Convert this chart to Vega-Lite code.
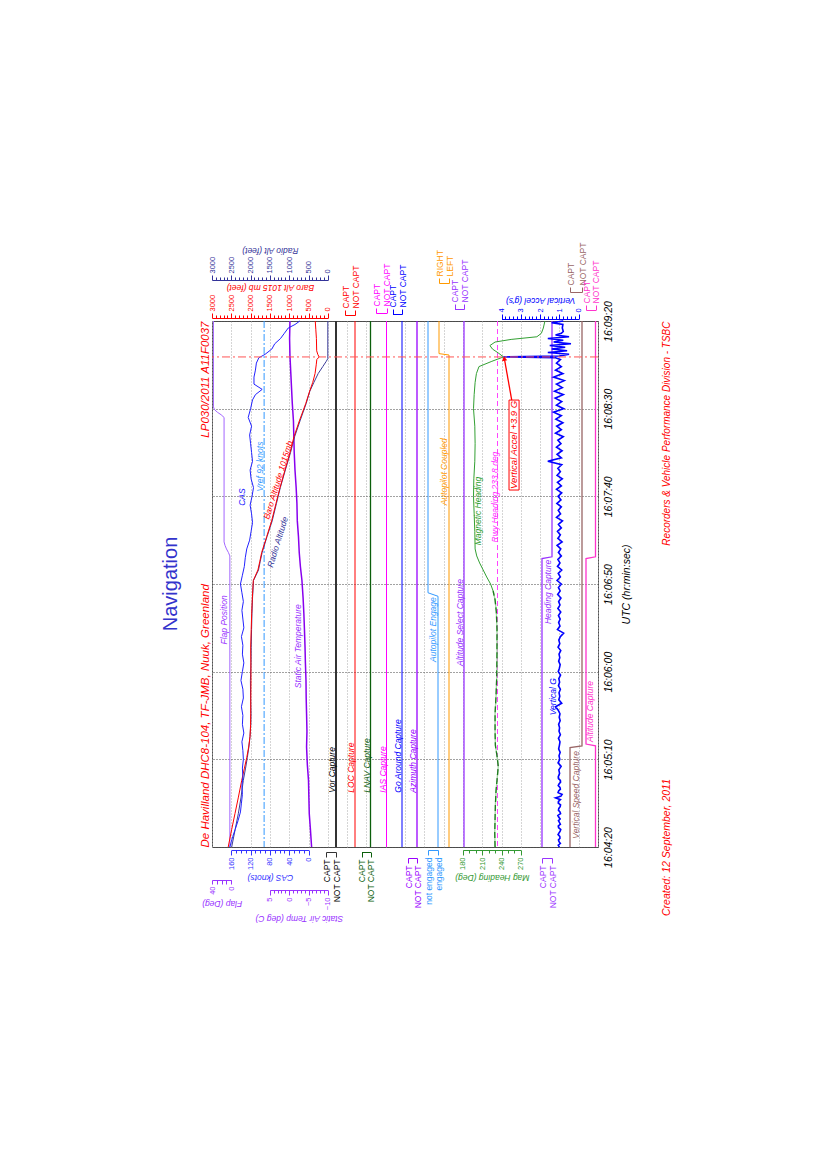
{
"$schema":"https://vega.github.io/schema/vega-lite/v6.json",
"width":386,"height":526,
"autosize":{"type":"none"},
"padding":{"left":212,"top":321,"right":229,"bottom":322},
"background":"white",
"config":{
 "view":{"stroke":"#505050","strokeWidth":1},
 "font":"Liberation Sans",
 "axis":{"labelFont":"Liberation Sans","titleFont":"Liberation Sans","labelFontSize":7.5,"titleFontSize":8.5,"titleFontStyle":"italic","titleFontWeight":"normal","grid":false,"labelFlush":false,"labelOverlap":false,"labelBound":false,"domainWidth":1,"tickWidth":1},
 "text":{"font":"Liberation Sans","fontStyle":"italic","fontSize":8.5},
 "title":{"font":"Liberation Sans"}
},
"title":{"text":"Navigation","orient":"left","anchor":"middle","fontSize":20,"fontWeight":"normal","color":"#3333cc","offset":18},
"datasets":{
 "cas":[{"t":0,"cas":163},{"t":3,"cas":160},{"t":6,"cas":157},{"t":10,"cas":152},{"t":15,"cas":146},{"t":20,"cas":141},{"t":25,"cas":139},{"t":30,"cas":137},{"t":35,"cas":138},{"t":40,"cas":136},{"t":45,"cas":137},{"t":50,"cas":135},{"t":55,"cas":136},{"t":60,"cas":138},{"t":65,"cas":134},{"t":70,"cas":137},{"t":75,"cas":136},{"t":80,"cas":139},{"t":85,"cas":135},{"t":90,"cas":136},{"t":95,"cas":140},{"t":100,"cas":137},{"t":105,"cas":134},{"t":110,"cas":137},{"t":115,"cas":136},{"t":120,"cas":139},{"t":125,"cas":134},{"t":130,"cas":136},{"t":135,"cas":138},{"t":140,"cas":135},{"t":145,"cas":138},{"t":150,"cas":141},{"t":155,"cas":137},{"t":160,"cas":133},{"t":165,"cas":131},{"t":170,"cas":128},{"t":175,"cas":122},{"t":180,"cas":119},{"t":185,"cas":116},{"t":190,"cas":118},{"t":195,"cas":121},{"t":200,"cas":117},{"t":205,"cas":114},{"t":210,"cas":119},{"t":215,"cas":121},{"t":220,"cas":116},{"t":225,"cas":118},{"t":230,"cas":120},{"t":235,"cas":122},{"t":240,"cas":118},{"t":245,"cas":125},{"t":250,"cas":120},{"t":255,"cas":116},{"t":258,"cas":110},{"t":261,"cas":96},{"t":264,"cas":113},{"t":268,"cas":113},{"t":272,"cas":110},{"t":276,"cas":108},{"t":279,"cas":103},{"t":281,"cas":90},{"t":284,"cas":76},{"t":287,"cas":70},{"t":290,"cas":58},{"t":293,"cas":50},{"t":296,"cas":42},{"t":298,"cas":28},{"t":300,"cas":18}],
 "baro":[{"t":0,"baro":2580},{"t":10,"baro":2490},{"t":19,"baro":2405},{"t":28,"baro":2320},{"t":38,"baro":2230},{"t":45,"baro":2160},{"t":51,"baro":2100},{"t":57,"baro":2050},{"t":63,"baro":2015},{"t":70,"baro":2000},{"t":76,"baro":1997},{"t":85,"baro":1995},{"t":95,"baro":1990},{"t":105,"baro":1993},{"t":114,"baro":1997},{"t":124,"baro":1985},{"t":133,"baro":1972},{"t":142,"baro":1955},{"t":152,"baro":1930},{"t":158,"baro":1810},{"t":163,"baro":1760},{"t":168,"baro":1713},{"t":177,"baro":1583},{"t":186,"baro":1455},{"t":196,"baro":1342},{"t":205,"baro":1238},{"t":215,"baro":1109},{"t":225,"baro":979},{"t":234,"baro":876},{"t":243,"baro":738},{"t":253,"baro":570},{"t":260,"baro":470},{"t":265,"baro":390},{"t":270,"baro":330},{"t":275,"baro":300},{"t":278,"baro":285},{"t":279.5,"baro":225},{"t":281,"baro":260},{"t":283,"baro":288},{"t":290,"baro":295},{"t":295,"baro":310},{"t":300,"baro":325}],
 "ra":[{"t":0,"ra":2490},{"t":10,"ra":2400},{"t":19,"ra":2318},{"t":28,"ra":2250},{"t":38,"ra":2189},{"t":45,"ra":2130},{"t":51,"ra":2085},{"t":57,"ra":2045},{"t":63,"ra":2015},{"t":70,"ra":1995},{"t":76,"ra":1990},{"t":85,"ra":2000},{"t":95,"ra":2005},{"t":105,"ra":1990},{"t":114,"ra":1985},{"t":124,"ra":1975},{"t":133,"ra":1965},{"t":142,"ra":1950},{"t":152,"ra":1925},{"t":158,"ra":1795},{"t":163,"ra":1750},{"t":168,"ra":1700},{"t":177,"ra":1575},{"t":186,"ra":1440},{"t":196,"ra":1330},{"t":205,"ra":1230},{"t":215,"ra":1100},{"t":225,"ra":965},{"t":234,"ra":860},{"t":243,"ra":720},{"t":253,"ra":560},{"t":260,"ra":465},{"t":265,"ra":360},{"t":270,"ra":250},{"t":274,"ra":130},{"t":277,"ra":40},{"t":278.5,"ra":0},{"t":300,"ra":0}],
 "sat":[{"t":0,"sat":-5.8},{"t":10,"sat":-5.5},{"t":19,"sat":-5.2},{"t":28,"sat":-5.1},{"t":38,"sat":-5.0},{"t":47,"sat":-4.7},{"t":57,"sat":-4.5},{"t":66,"sat":-4.6},{"t":76,"sat":-4.5},{"t":85,"sat":-4.4},{"t":95,"sat":-4.35},{"t":105,"sat":-4.2},{"t":114,"sat":-4.1},{"t":124,"sat":-3.95},{"t":133,"sat":-3.8},{"t":142,"sat":-3.6},{"t":152,"sat":-3.3},{"t":160,"sat":-2.9},{"t":168,"sat":-2.6},{"t":177,"sat":-2.4},{"t":186,"sat":-2.1},{"t":196,"sat":-2.0},{"t":205,"sat":-1.8},{"t":215,"sat":-1.5},{"t":225,"sat":-1.3},{"t":234,"sat":-1.2},{"t":243,"sat":-1.1},{"t":253,"sat":-0.8},{"t":262,"sat":-0.6},{"t":271,"sat":-0.4},{"t":280,"sat":-0.2},{"t":290,"sat":-0.1},{"t":300,"sat":-0.2}],
 "flap":[{"t":0,"flap":3},{"t":166,"flap":3},{"t":168,"flap":6},{"t":170,"flap":10},{"t":172,"flap":13},{"t":174,"flap":15},{"t":245,"flap":15},{"t":246.5,"flap":21},{"t":248,"flap":29},{"t":249.5,"flap":35},{"t":251,"flap":37},{"t":300,"flap":37}],
 "hdg":[{"t":0,"hdg":230},{"t":8,"hdg":229.5},{"t":16,"hdg":230},{"t":24,"hdg":230.5},{"t":32,"hdg":231.5},{"t":40,"hdg":233.5},{"t":46,"hdg":235},{"t":52,"hdg":233},{"t":58,"hdg":230.5},{"t":66,"hdg":230},{"t":76,"hdg":230},{"t":86,"hdg":231.5},{"t":96,"hdg":232.5},{"t":110,"hdg":233},{"t":124,"hdg":233},{"t":134,"hdg":232},{"t":141,"hdg":230},{"t":146,"hdg":227},{"t":150,"hdg":223},{"t":154,"hdg":217},{"t":158,"hdg":211.5},{"t":162,"hdg":206},{"t":166,"hdg":201.5},{"t":170,"hdg":199},{"t":180,"hdg":198.5},{"t":190,"hdg":197.5},{"t":200,"hdg":196.5},{"t":210,"hdg":197},{"t":220,"hdg":198.5},{"t":230,"hdg":199},{"t":240,"hdg":198.5},{"t":250,"hdg":196.5},{"t":258,"hdg":197.5},{"t":265,"hdg":199},{"t":270,"hdg":201},{"t":274,"hdg":205},{"t":277,"hdg":225},{"t":279.5,"hdg":243},{"t":281.5,"hdg":236},{"t":284,"hdg":226},{"t":286,"hdg":222},{"t":288,"hdg":230},{"t":289.5,"hdg":255},{"t":291,"hdg":295},{"t":293,"hdg":302},{"t":296,"hdg":305},{"t":300,"hdg":307.5}],
 "vg":[{"t":0,"g":1.0},{"t":1,"g":1.06},{"t":2,"g":0.95},{"t":3,"g":1.02},{"t":4,"g":1.05},{"t":5,"g":0.97},{"t":6,"g":0.98},{"t":7,"g":1.07},{"t":8,"g":1.02},{"t":9,"g":0.96},{"t":10,"g":0.93},{"t":11,"g":1.04},{"t":12,"g":1.06},{"t":13,"g":0.95},{"t":14,"g":1.0},{"t":15,"g":1.05},{"t":16,"g":0.96},{"t":17,"g":1.03},{"t":18,"g":1.08},{"t":19,"g":0.94},{"t":20,"g":0.97},{"t":21,"g":1.05},{"t":22,"g":1.03},{"t":23,"g":0.96},{"t":24,"g":0.94},{"t":25,"g":1.06},{"t":26,"g":1.05},{"t":27,"g":0.95},{"t":28,"g":1.2},{"t":29,"g":0.92},{"t":30,"g":0.86},{"t":31,"g":1.07},{"t":32,"g":1.04},{"t":33,"g":0.95},{"t":34,"g":0.97},{"t":35,"g":1.06},{"t":36,"g":1.02},{"t":37,"g":0.94},{"t":38,"g":0.95},{"t":39,"g":1.05},{"t":40,"g":1.06},{"t":42,"g":0.99},{"t":44,"g":1.03},{"t":46,"g":0.91},{"t":48,"g":1.07},{"t":50,"g":0.98},{"t":52,"g":1.02},{"t":54,"g":0.96},{"t":56,"g":1.04},{"t":58,"g":1.0},{"t":60,"g":0.97},{"t":62,"g":1.05},{"t":64,"g":0.95},{"t":66,"g":1.02},{"t":68,"g":0.99},{"t":70,"g":1.04},{"t":72,"g":0.96},{"t":74,"g":1.01},{"t":76,"g":0.97},{"t":78,"g":1.06},{"t":80,"g":1.2},{"t":82,"g":0.88},{"t":84,"g":1.03},{"t":86,"g":0.98},{"t":88,"g":1.02},{"t":90,"g":0.95},{"t":92,"g":1.05},{"t":94,"g":0.99},{"t":96,"g":1.03},{"t":98,"g":0.94},{"t":100,"g":1.06},{"t":102,"g":1.0},{"t":104,"g":0.96},{"t":106,"g":1.04},{"t":108,"g":0.98},{"t":110,"g":1.02},{"t":112,"g":0.93},{"t":114,"g":1.07},{"t":116,"g":0.98},{"t":118,"g":1.03},{"t":120,"g":0.95},{"t":122,"g":0.78},{"t":124,"g":1.1},{"t":126,"g":0.97},{"t":128,"g":1.04},{"t":130,"g":0.96},{"t":132,"g":1.05},{"t":134,"g":0.93},{"t":136,"g":1.08},{"t":138,"g":0.97},{"t":140,"g":1.04},{"t":142,"g":0.92},{"t":144,"g":1.09},{"t":146,"g":0.96},{"t":148,"g":1.05},{"t":150,"g":0.9},{"t":152,"g":1.12},{"t":154,"g":0.95},{"t":156,"g":1.06},{"t":158,"g":0.88},{"t":160,"g":1.1},{"t":162,"g":0.97},{"t":164,"g":1.08},{"t":166,"g":0.9},{"t":168,"g":1.05},{"t":170,"g":0.93},{"t":172,"g":1.12},{"t":174,"g":0.86},{"t":176,"g":1.08},{"t":178,"g":0.95},{"t":180,"g":1.1},{"t":182,"g":0.9},{"t":184,"g":1.05},{"t":186,"g":0.84},{"t":188,"g":1.15},{"t":190,"g":0.94},{"t":192,"g":1.06},{"t":194,"g":0.9},{"t":196,"g":1.13},{"t":198,"g":0.92},{"t":200,"g":1.07},{"t":202,"g":0.88},{"t":204,"g":1.15},{"t":206,"g":0.9},{"t":208,"g":1.1},{"t":210,"g":0.85},{"t":212,"g":1.12},{"t":214,"g":0.95},{"t":216,"g":1.08},{"t":218,"g":0.88},{"t":220,"g":1.6},{"t":222,"g":0.9},{"t":224,"g":1.12},{"t":226,"g":0.86},{"t":228,"g":1.15},{"t":230,"g":0.92},{"t":232,"g":1.08},{"t":234,"g":0.8},{"t":236,"g":1.2},{"t":238,"g":0.9},{"t":240,"g":1.14},{"t":242,"g":0.82},{"t":244,"g":1.18},{"t":246,"g":0.9},{"t":248,"g":1.3},{"t":250,"g":0.78},{"t":252,"g":1.15},{"t":254,"g":0.88},{"t":256,"g":1.22},{"t":258,"g":0.8},{"t":260,"g":1.25},{"t":262,"g":0.85},{"t":264,"g":1.15},{"t":266,"g":0.75},{"t":268,"g":1.3},{"t":270,"g":0.82},{"t":272,"g":1.2},{"t":274,"g":0.9},{"t":276,"g":1.15},{"t":278,"g":0.95},{"t":279,"g":1.2},{"t":279.5,"g":3.9},{"t":280,"g":1.0},{"t":281,"g":0.5},{"t":282,"g":1.6},{"t":283,"g":0.6},{"t":284,"g":1.4},{"t":285,"g":0.7},{"t":286,"g":1.5},{"t":287,"g":0.4},{"t":288,"g":1.3},{"t":289,"g":0.8},{"t":290,"g":1.6},{"t":291,"g":0.5},{"t":292,"g":1.2},{"t":293,"g":0.9},{"t":294,"g":0.8},{"t":296,"g":0.85},{"t":298,"g":0.82},{"t":299,"g":1.4},{"t":300,"g":0.8}]
},
"resolve":{"scale":{"x":"independent"},"axis":{"x":"independent","y":"independent"}},
"layer":[
 {"data":{"values":[{"cas":92}]},"mark":{"type":"rule","color":"#3399ff","strokeDash":[7,2,2,2],"strokeWidth":1},
  "encoding":{"x":{"field":"cas","type":"quantitative","scale":{"domain":[-600,200],"range":[386,0],"nice":false,"zero":false},"axis":{"orient":"bottom","values":[-600,-560,-520,-480,-440,-400,-360,-320,-280,-240,-200,-160,-120,-80,-40,0,40,80,120,160,200],"grid":true,"gridColor":"#aaaaaa","gridDash":[1,2],"gridWidth":1,"labels":false,"ticks":false,"domain":false,"title":null}}}},
 {"data":{"values":[{"cas":100.5,"t":217,"label":"Vref 92 knots"}]},"mark":{"type":"text","angle":270,"color":"#3399ff"},
  "encoding":{"x":{"field":"cas","type":"quantitative","scale":{"domain":[-600,200],"range":[386,0],"nice":false,"zero":false},"axis":null},"y":{"field":"t","type":"quantitative","scale":{"domain":[0,300],"nice":false,"zero":false},"axis":null},"text":{"field":"label"}}},

 {"data":{"name":"flap"},"mark":{"type":"line","color":"#a366ff","strokeWidth":1},
  "encoding":{"x":{"field":"flap","type":"quantitative","scale":{"domain":[0,40],"range":[19.3,0],"nice":false,"zero":false},"axis":{"orient":"bottom","offset":33,"values":[0,10,20,30,40],"labelExpr":"datum.value % 40 === 0 ? format(datum.value,'d') : ''","labelAngle":-90,"labelAlign":"right","labelBaseline":"middle","tickSize":4,"labelPadding":2,"domainColor":"#9933ff","tickColor":"#9933ff","labelColor":"#9933ff","title":"Flap (Deg)","titleColor":"#9933ff","titleAngle":180,"titleBaseline":"bottom","titlePadding":4}},
   "y":{"field":"t","type":"quantitative","scale":{"domain":[0,300],"nice":false,"zero":false},"axis":{"orient":"left","labels":false,"ticks":false,"domain":false,"grid":false,"title":"De Havilland DHC8-104, TF-JMB, Nuuk, Greenland","titleAnchor":"start","titleAlign":"left","titleAngle":-90,"titleBaseline":"bottom","titlePadding":2,"titleColor":"#ff0000","titleFontSize":11.5,"titleFontStyle":"italic"}},
   "order":{"field":"t","type":"quantitative"}}},
 {"data":{"values":[{"flap":15,"t":129.5,"label":"Flap Position"}]},"mark":{"type":"text","angle":270,"color":"#9933ff"},
  "encoding":{"x":{"field":"flap","type":"quantitative","scale":{"domain":[0,40],"range":[19.3,0],"nice":false,"zero":false},"axis":null},"y":{"field":"t","type":"quantitative","axis":null},"text":{"field":"label"}}},

 {"data":{"name":"sat"},"mark":{"type":"line","color":"#8800ee","strokeWidth":1.5},
  "encoding":{"x":{"field":"sat","type":"quantitative","scale":{"domain":[-10,5],"range":[115.8,57.9],"nice":false,"zero":false},"axis":{"orient":"bottom","offset":43,"values":[-10,-9,-8,-7,-6,-5,-4,-3,-2,-1,0,1,2,3,4,5],"labelExpr":"datum.value % 5 === 0 ? format(datum.value,'d') : ''","tickSize":{"condition":{"test":"datum.value % 5 === 0","value":5},"value":3},"labelAngle":-90,"labelAlign":"right","labelBaseline":"middle","labelPadding":2,"domainColor":"#9933ff","tickColor":"#9933ff","labelColor":"#9933ff","title":"Static Air Temp (deg C)","titleColor":"#9933ff","titleAngle":180,"titleBaseline":"bottom","titlePadding":4}},
   "y":{"field":"t","type":"quantitative","axis":{"orient":"left","labels":false,"ticks":false,"domain":false,"grid":false,"title":"LP030/2011  A11F0037","titleAnchor":"end","titleAlign":"right","titleAngle":-90,"titleBaseline":"bottom","titlePadding":2,"titleColor":"#ff0000","titleFontSize":11.5,"titleFontStyle":"italic"}},
   "order":{"field":"t","type":"quantitative"}}},
 {"data":{"values":[{"sat":-2.4,"t":114.5,"label":"Static Air Temperature"}]},"mark":{"type":"text","angle":270,"color":"#9933ff"},
  "encoding":{"x":{"field":"sat","type":"quantitative","scale":{"domain":[-10,5],"range":[115.8,57.9],"nice":false,"zero":false},"axis":null},"y":{"field":"t","type":"quantitative","axis":null},"text":{"field":"label"}}},

 {"data":{"name":"ra"},"mark":{"type":"line","color":"#3d3d99","strokeWidth":1},
  "encoding":{"x":{"field":"ra","type":"quantitative","scale":{"domain":[0,3000],"range":[115.8,0],"nice":false,"zero":false},"axis":{"orient":"top","offset":41,"values":[0,100,200,300,400,500,600,700,800,900,1000,1100,1200,1300,1400,1500,1600,1700,1800,1900,2000,2100,2200,2300,2400,2500,2600,2700,2800,2900,3000],"labelExpr":"datum.value % 500 === 0 ? format(datum.value,'d') : ''","tickSize":{"condition":{"test":"datum.value % 500 === 0","value":5},"value":3},"labelAngle":-90,"labelAlign":"left","labelBaseline":"middle","labelPadding":2,"domainColor":"#333399","tickColor":"#333399","labelColor":"#333399","title":"Radio Alt (feet)","titleColor":"#333399","titleAngle":180,"titleBaseline":"top","titlePadding":2}},
   "y":{"field":"t","type":"quantitative","axis":null},
   "order":{"field":"t","type":"quantitative"}}},
 {"data":{"values":[{"ra":1303,"t":174,"label":"Radio Altitude"}]},"mark":{"type":"text","angle":287,"color":"#333399"},
  "encoding":{"x":{"field":"ra","type":"quantitative","scale":{"domain":[0,3000],"range":[115.8,0],"nice":false,"zero":false},"axis":null},"y":{"field":"t","type":"quantitative","axis":null},"text":{"field":"label"}}},

 {"data":{"name":"baro"},"mark":{"type":"line","color":"#ff0000","strokeWidth":1},
  "encoding":{"x":{"field":"baro","type":"quantitative","scale":{"domain":[0,3000],"range":[115.8,0],"nice":false,"zero":false},"axis":{"orient":"top","offset":3,"values":[0,100,200,300,400,500,600,700,800,900,1000,1100,1200,1300,1400,1500,1600,1700,1800,1900,2000,2100,2200,2300,2400,2500,2600,2700,2800,2900,3000],"labelExpr":"datum.value % 500 === 0 ? format(datum.value,'d') : ''","tickSize":{"condition":{"test":"datum.value % 500 === 0","value":5},"value":3},"labelAngle":-90,"labelAlign":"left","labelBaseline":"middle","labelPadding":2,"domainColor":"#ff0000","tickColor":"#ff0000","labelColor":"#ff0000","title":"Baro Alt 1015 mb (feet)","titleColor":"#ff0000","titleAngle":180,"titleBaseline":"top","titlePadding":3}},
   "y":{"field":"t","type":"quantitative","axis":{"orient":"right","labels":false,"ticks":false,"domain":false,"grid":false,"title":"Recorders & Vehicle Performance Division - TSBC","titleAnchor":"end","titleAlign":"right","titleAngle":-90,"titleBaseline":"top","titlePadding":63,"titleColor":"#ff0000","titleFontSize":10,"titleFontStyle":"italic"}},
   "order":{"field":"t","type":"quantitative"}}},
 {"data":{"values":[{"baro":1290,"t":209.3,"label":"Baro Altitude 1015mb"}]},"mark":{"type":"text","angle":287,"color":"#ff0000"},
  "encoding":{"x":{"field":"baro","type":"quantitative","scale":{"domain":[0,3000],"range":[115.8,0],"nice":false,"zero":false},"axis":null},"y":{"field":"t","type":"quantitative","axis":null},"text":{"field":"label"}}},

 {"data":{"name":"cas"},"mark":{"type":"line","color":"#2222ff","strokeWidth":1},
  "encoding":{"x":{"field":"cas","type":"quantitative","scale":{"domain":[0,160],"range":[96.5,19.3],"nice":false,"zero":false},"axis":{"orient":"bottom","offset":3,"values":[0,10,20,30,40,50,60,70,80,90,100,110,120,130,140,150,160],"labelExpr":"datum.value % 40 === 0 ? format(datum.value,'d') : ''","tickSize":{"condition":{"test":"datum.value % 40 === 0","value":5},"value":3},"labelAngle":-90,"labelAlign":"right","labelBaseline":"middle","labelPadding":2,"domainColor":"#3333ff","tickColor":"#3333ff","labelColor":"#3333ff","title":"CAS (knots)","titleColor":"#3333ff","titleAngle":180,"titleBaseline":"bottom","titlePadding":3}},
   "y":{"field":"t","type":"quantitative","axis":{"orient":"right","labels":false,"ticks":false,"domain":false,"grid":false,"title":"Created:  12 September, 2011","titleAnchor":"start","titleAlign":"center","titleAngle":-90,"titleBaseline":"top","titlePadding":63,"titleColor":"#ff0000","titleFontSize":10.5,"titleFontStyle":"italic"}},
   "order":{"field":"t","type":"quantitative"}}},
 {"data":{"values":[{"cas":138,"t":199.6,"label":"CAS"}]},"mark":{"type":"text","angle":270,"color":"#2222ff"},
  "encoding":{"x":{"field":"cas","type":"quantitative","scale":{"domain":[0,160],"range":[96.5,19.3],"nice":false,"zero":false},"axis":null},"y":{"field":"t","type":"quantitative","axis":null},"text":{"field":"label"}}},

 {"data":{"values":[{"t":0,"s":0},{"t":300,"s":0}]},"mark":{"type":"line","color":"#333333","strokeWidth":2},
  "encoding":{"x":{"field":"s","type":"quantitative","scale":{"domain":[0,1],"range":[124,114],"nice":false,"zero":false},"axis":{"orient":"bottom","offset":5,"values":[0,1],"labelExpr":"datum.value == 1 ? 'CAPT' : 'NOT CAPT'","labelAngle":-90,"labelAlign":"right","labelBaseline":"middle","tickSize":5,"labelPadding":2,"labelFontSize":8.5,"domainColor":"#333333","tickColor":"#333333","labelColor":"#000000","title":null}},
   "y":{"field":"t","type":"quantitative","axis":null},"order":{"field":"t","type":"quantitative"}}},
 {"data":{"values":[{"s":0.45,"t":31,"label":"Vor Capture"}]},"mark":{"type":"text","angle":270,"align":"left","color":"#000000"},
  "encoding":{"x":{"field":"s","type":"quantitative","scale":{"domain":[0,1],"range":[124,114],"nice":false,"zero":false},"axis":null},"y":{"field":"t","type":"quantitative","axis":null},"text":{"field":"label"}}},

 {"data":{"values":[{"t":0,"s":0},{"t":300,"s":0}]},"mark":{"type":"line","color":"#ff0000","strokeWidth":1},
  "encoding":{"x":{"field":"s","type":"quantitative","scale":{"domain":[0,1],"range":[143,133],"nice":false,"zero":false},"axis":{"orient":"top","offset":6,"values":[0,1],"labelExpr":"datum.value == 1 ? 'CAPT' : 'NOT CAPT'","labelAngle":-90,"labelAlign":"left","labelBaseline":"middle","tickSize":5,"labelPadding":2,"labelFontSize":8.5,"domainColor":"#ff0000","tickColor":"#ff0000","labelColor":"#ff0000","title":null}},
   "y":{"field":"t","type":"quantitative","axis":null},"order":{"field":"t","type":"quantitative"}}},
 {"data":{"values":[{"s":0.4,"t":31,"label":"LOC Capture"}]},"mark":{"type":"text","angle":270,"align":"left","color":"#ff0000"},
  "encoding":{"x":{"field":"s","type":"quantitative","scale":{"domain":[0,1],"range":[143,133],"nice":false,"zero":false},"axis":null},"y":{"field":"t","type":"quantitative","axis":null},"text":{"field":"label"}}},

 {"data":{"values":[{"t":0,"s":0},{"t":300,"s":0}]},"mark":{"type":"line","color":"#0b5e0b","strokeWidth":1.3},
  "encoding":{"x":{"field":"s","type":"quantitative","scale":{"domain":[0,1],"range":[158.5,149.5],"nice":false,"zero":false},"axis":{"orient":"bottom","offset":5,"values":[0,1],"labelExpr":"datum.value == 1 ? 'CAPT' : 'NOT CAPT'","labelAngle":-90,"labelAlign":"right","labelBaseline":"middle","tickSize":5,"labelPadding":2,"labelFontSize":8.5,"domainColor":"#0b5e0b","tickColor":"#0b5e0b","labelColor":"#0b5e0b","title":null}},
   "y":{"field":"t","type":"quantitative","axis":null},"order":{"field":"t","type":"quantitative"}}},
 {"data":{"values":[{"s":0.4,"t":31,"label":"LNAV Capture"}]},"mark":{"type":"text","angle":270,"align":"left","color":"#0b5e0b"},
  "encoding":{"x":{"field":"s","type":"quantitative","scale":{"domain":[0,1],"range":[158.5,149.5],"nice":false,"zero":false},"axis":null},"y":{"field":"t","type":"quantitative","axis":null},"text":{"field":"label"}}},

 {"data":{"values":[{"t":0,"s":0},{"t":300,"s":0}]},"mark":{"type":"line","color":"#ff00ff","strokeWidth":1},
  "encoding":{"x":{"field":"s","type":"quantitative","scale":{"domain":[0,1],"range":[174.5,164],"nice":false,"zero":false},"axis":{"orient":"top","offset":8,"values":[0,1],"labelExpr":"datum.value == 1 ? 'CAPT' : 'NOT CAPT'","labelAngle":-90,"labelAlign":"left","labelBaseline":"middle","tickSize":5,"labelPadding":2,"labelFontSize":8.5,"domainColor":"#ff00ff","tickColor":"#ff00ff","labelColor":"#ff00ff","title":null}},
   "y":{"field":"t","type":"quantitative","axis":null},"order":{"field":"t","type":"quantitative"}}},
 {"data":{"values":[{"s":0.33,"t":31,"label":"IAS Capture"}]},"mark":{"type":"text","angle":270,"align":"left","color":"#ff00ff"},
  "encoding":{"x":{"field":"s","type":"quantitative","scale":{"domain":[0,1],"range":[174.5,164],"nice":false,"zero":false},"axis":null},"y":{"field":"t","type":"quantitative","axis":null},"text":{"field":"label"}}},

 {"data":{"values":[{"t":0,"s":0},{"t":300,"s":0}]},"mark":{"type":"line","color":"#0000ff","strokeWidth":1},
  "encoding":{"x":{"field":"s","type":"quantitative","scale":{"domain":[0,1],"range":[190,180.5],"nice":false,"zero":false},"axis":{"orient":"top","offset":7,"values":[0,1],"labelExpr":"datum.value == 1 ? 'CAPT' : 'NOT CAPT'","labelAngle":-90,"labelAlign":"left","labelBaseline":"middle","tickSize":5,"labelPadding":2,"labelFontSize":8.5,"domainColor":"#0000ff","tickColor":"#0000ff","labelColor":"#0000ff","title":null}},
   "y":{"field":"t","type":"quantitative","axis":null},"order":{"field":"t","type":"quantitative"}}},
 {"data":{"values":[{"s":0.42,"t":31,"label":"Go Around Capture"}]},"mark":{"type":"text","angle":270,"align":"left","color":"#0000ff"},
  "encoding":{"x":{"field":"s","type":"quantitative","scale":{"domain":[0,1],"range":[190,180.5],"nice":false,"zero":false},"axis":null},"y":{"field":"t","type":"quantitative","axis":null},"text":{"field":"label"}}},

 {"data":{"values":[{"t":0,"s":0},{"t":300,"s":0}]},"mark":{"type":"line","color":"#9900ff","strokeWidth":1.3},
  "encoding":{"x":{"field":"s","type":"quantitative","scale":{"domain":[0,1],"range":[205,196],"nice":false,"zero":false},"axis":{"orient":"bottom","offset":11,"values":[0,1],"labelExpr":"datum.value == 1 ? 'CAPT' : 'NOT CAPT'","labelAngle":-90,"labelAlign":"right","labelBaseline":"middle","tickSize":5,"labelPadding":2,"labelFontSize":8.5,"domainColor":"#9900ff","tickColor":"#9900ff","labelColor":"#9900ff","title":null}},
   "y":{"field":"t","type":"quantitative","axis":null},"order":{"field":"t","type":"quantitative"}}},
 {"data":{"values":[{"s":0.45,"t":31,"label":"Azimuth Capture"}]},"mark":{"type":"text","angle":270,"align":"left","color":"#9900ff"},
  "encoding":{"x":{"field":"s","type":"quantitative","scale":{"domain":[0,1],"range":[205,196],"nice":false,"zero":false},"axis":null},"y":{"field":"t","type":"quantitative","axis":null},"text":{"field":"label"}}},

 {"data":{"values":[{"t":0,"s":1},{"t":143,"s":1},{"t":145,"s":0},{"t":300,"s":0}]},"mark":{"type":"line","color":"#3399ff","strokeWidth":1},
  "encoding":{"x":{"field":"s","type":"quantitative","scale":{"domain":[0,1],"range":[216,226],"nice":false,"zero":false},"axis":{"orient":"bottom","offset":3,"values":[0,1],"labelExpr":"datum.value == 1 ? 'engaged' : 'not engaged'","labelAngle":-90,"labelAlign":"right","labelBaseline":"middle","tickSize":5,"labelPadding":2,"labelFontSize":8.5,"domainColor":"#3399ff","tickColor":"#3399ff","labelColor":"#3399ff","title":null}},
   "y":{"field":"t","type":"quantitative","axis":null},"order":{"field":"t","type":"quantitative"}}},
 {"data":{"values":[{"s":0.5,"t":124,"label":"Autopilot Engage"}]},"mark":{"type":"text","angle":270,"color":"#3399ff"},
  "encoding":{"x":{"field":"s","type":"quantitative","scale":{"domain":[0,1],"range":[216,226],"nice":false,"zero":false},"axis":null},"y":{"field":"t","type":"quantitative","axis":null},"text":{"field":"label"}}},

 {"data":{"values":[{"t":0,"s":0},{"t":280.6,"s":0},{"t":281.4,"s":1},{"t":300,"s":1}]},"mark":{"type":"line","color":"#ff9900","strokeWidth":1},
  "encoding":{"x":{"field":"s","type":"quantitative","scale":{"domain":[0,1],"range":[237,227],"nice":false,"zero":false},"axis":{"orient":"top","offset":38,"values":[0,1],"labelExpr":"datum.value == 1 ? 'RIGHT' : 'LEFT'","labelAngle":-90,"labelAlign":"left","labelBaseline":"middle","tickSize":5,"labelPadding":2,"labelFontSize":8.5,"domainColor":"#ff9900","tickColor":"#ff9900","labelColor":"#ff9900","title":null}},
   "y":{"field":"t","type":"quantitative","axis":null},"order":{"field":"t","type":"quantitative"}}},
 {"data":{"values":[{"s":0.5,"t":214,"label":"Autopilot Coupled"}]},"mark":{"type":"text","angle":270,"color":"#ff9900"},
  "encoding":{"x":{"field":"s","type":"quantitative","scale":{"domain":[0,1],"range":[237,227],"nice":false,"zero":false},"axis":null},"y":{"field":"t","type":"quantitative","axis":null},"text":{"field":"label"}}},

 {"data":{"values":[{"t":0,"s":0},{"t":300,"s":0}]},"mark":{"type":"line","color":"#9933ff","strokeWidth":1.3},
  "encoding":{"x":{"field":"s","type":"quantitative","scale":{"domain":[0,1],"range":[252,242.5],"nice":false,"zero":false},"axis":{"orient":"top","offset":12,"values":[0,1],"labelExpr":"datum.value == 1 ? 'CAPT' : 'NOT CAPT'","labelAngle":-90,"labelAlign":"left","labelBaseline":"middle","tickSize":5,"labelPadding":2,"labelFontSize":8.5,"domainColor":"#9933ff","tickColor":"#9933ff","labelColor":"#9933ff","title":null}},
   "y":{"field":"t","type":"quantitative","axis":null},"order":{"field":"t","type":"quantitative"}}},
 {"data":{"values":[{"s":0.42,"t":128,"label":"Altitude Select Capture"}]},"mark":{"type":"text","angle":270,"color":"#9933ff"},
  "encoding":{"x":{"field":"s","type":"quantitative","scale":{"domain":[0,1],"range":[252,242.5],"nice":false,"zero":false},"axis":null},"y":{"field":"t","type":"quantitative","axis":null},"text":{"field":"label"}}},

 {"data":{"values":[{"t":0,"s":1},{"t":164.5,"s":1},{"t":165.5,"s":0},{"t":300,"s":0}]},"mark":{"type":"line","color":"#9933ff","strokeWidth":1.3},
  "encoding":{"x":{"field":"s","type":"quantitative","scale":{"domain":[0,1],"range":[340,330],"nice":false,"zero":false},"axis":{"orient":"bottom","offset":11,"values":[0,1],"labelExpr":"datum.value == 1 ? 'CAPT' : 'NOT CAPT'","labelAngle":-90,"labelAlign":"right","labelBaseline":"middle","tickSize":5,"labelPadding":2,"labelFontSize":8.5,"domainColor":"#9933ff","tickColor":"#9933ff","labelColor":"#9933ff","title":null}},
   "y":{"field":"t","type":"quantitative","axis":null},"order":{"field":"t","type":"quantitative"}}},
 {"data":{"values":[{"s":0.37,"t":145.5,"label":"Heading Capture"}]},"mark":{"type":"text","angle":270,"color":"#9933ff"},
  "encoding":{"x":{"field":"s","type":"quantitative","scale":{"domain":[0,1],"range":[340,330],"nice":false,"zero":false},"axis":null},"y":{"field":"t","type":"quantitative","axis":null},"text":{"field":"label"}}},

 {"data":{"values":[{"t":0,"s":1},{"t":56.7,"s":1},{"t":57.7,"s":0},{"t":300,"s":0}]},"mark":{"type":"line","color":"#996666","strokeWidth":1.3},
  "encoding":{"x":{"field":"s","type":"quantitative","scale":{"domain":[0,1],"range":[370,358],"nice":false,"zero":false},"axis":{"orient":"top","offset":29,"values":[0,1],"labelExpr":"datum.value == 1 ? 'CAPT' : 'NOT CAPT'","labelAngle":-90,"labelAlign":"left","labelBaseline":"middle","tickSize":5,"labelPadding":2,"labelFontSize":8.5,"domainColor":"#996666","tickColor":"#996666","labelColor":"#996666","title":null}},
   "y":{"field":"t","type":"quantitative","axis":null},"order":{"field":"t","type":"quantitative"}}},
 {"data":{"values":[{"s":0.54,"t":29.7,"label":"Vertical Speed Capture"}]},"mark":{"type":"text","angle":270,"color":"#996666"},
  "encoding":{"x":{"field":"s","type":"quantitative","scale":{"domain":[0,1],"range":[370,358],"nice":false,"zero":false},"axis":null},"y":{"field":"t","type":"quantitative","axis":null},"text":{"field":"label"}}},

 {"data":{"values":[{"t":0,"s":0},{"t":57.7,"s":0},{"t":58.7,"s":1},{"t":164.5,"s":1},{"t":165.5,"s":0},{"t":300,"s":0}]},"mark":{"type":"line","color":"#ff33cc","strokeWidth":1.3},
  "encoding":{"x":{"field":"s","type":"quantitative","scale":{"domain":[0,1],"range":[383.5,374],"nice":false,"zero":false},"axis":{"orient":"top","offset":11,"values":[0,1],"labelExpr":"datum.value == 1 ? 'CAPT' : 'NOT CAPT'","labelAngle":-90,"labelAlign":"left","labelBaseline":"middle","tickSize":5,"labelPadding":2,"labelFontSize":8.5,"domainColor":"#ff33cc","tickColor":"#ff33cc","labelColor":"#ff33cc","title":null}},
   "y":{"field":"t","type":"quantitative","axis":null},"order":{"field":"t","type":"quantitative"}}},
 {"data":{"values":[{"s":0.53,"t":77.3,"label":"Altitude Capture"}]},"mark":{"type":"text","angle":270,"color":"#ff33cc"},
  "encoding":{"x":{"field":"s","type":"quantitative","scale":{"domain":[0,1],"range":[383.5,374],"nice":false,"zero":false},"axis":null},"y":{"field":"t","type":"quantitative","axis":null},"text":{"field":"label"}}},

 {"data":{"values":[{"hdg":233.8}]},"mark":{"type":"rule","color":"#ff44ff","strokeDash":[5,3],"strokeWidth":1},
  "encoding":{"x":{"field":"hdg","type":"quantitative","scale":{"domain":[180,270],"range":[250.9,308.8],"nice":false,"zero":false},"axis":{"orient":"bottom","offset":3,"values":[180,190,200,210,220,230,240,250,260,270],"labelExpr":"datum.value % 30 === 0 ? format(datum.value,'d') : ''","tickSize":{"condition":{"test":"datum.value % 30 === 0","value":5},"value":3},"labelAngle":-90,"labelAlign":"right","labelBaseline":"middle","labelPadding":2,"domainColor":"#339933","tickColor":"#339933","labelColor":"#339933","title":"Mag Heading (Deg)","titleColor":"#339933","titleAngle":180,"titleBaseline":"bottom","titlePadding":3}}}},
 {"data":{"name":"hdg"},"transform":[{"filter":"datum.t >= 146"}],"mark":{"type":"line","color":"#33a033","strokeWidth":1},
  "encoding":{"x":{"field":"hdg","type":"quantitative","scale":{"domain":[180,270],"range":[250.9,308.8],"nice":false,"zero":false},"axis":null},"y":{"field":"t","type":"quantitative","axis":null},"order":{"field":"t","type":"quantitative"}}},
 {"data":{"name":"hdg"},"transform":[{"filter":"datum.t <= 146"}],"mark":{"type":"line","color":"#9fd89f","strokeWidth":1.3},
  "encoding":{"x":{"field":"hdg","type":"quantitative","scale":{"domain":[180,270],"range":[250.9,308.8],"nice":false,"zero":false},"axis":null},"y":{"field":"t","type":"quantitative","axis":null},"order":{"field":"t","type":"quantitative"}}},
 {"data":{"name":"hdg"},"transform":[{"filter":"datum.t <= 146"}],"mark":{"type":"line","color":"#1e7a1e","strokeWidth":1.3,"strokeDash":[6,3]},
  "encoding":{"x":{"field":"hdg","type":"quantitative","scale":{"domain":[180,270],"range":[250.9,308.8],"nice":false,"zero":false},"axis":null},"y":{"field":"t","type":"quantitative","axis":null},"order":{"field":"t","type":"quantitative"}}},
 {"data":{"values":[{"hdg":203.5,"t":191.6,"label":"Magnetic Heading"}]},"mark":{"type":"text","angle":270,"color":"#2e9e2e"},
  "encoding":{"x":{"field":"hdg","type":"quantitative","scale":{"domain":[180,270],"range":[250.9,308.8],"nice":false,"zero":false},"axis":null},"y":{"field":"t","type":"quantitative","axis":null},"text":{"field":"label"}}},
 {"data":{"values":[{"hdg":230,"t":199.6,"label":"Rwy Heading 233.8 deg"}]},"mark":{"type":"text","angle":270,"color":"#ff33ff"},
  "encoding":{"x":{"field":"hdg","type":"quantitative","scale":{"domain":[180,270],"range":[250.9,308.8],"nice":false,"zero":false},"axis":null},"y":{"field":"t","type":"quantitative","axis":null},"text":{"field":"label"}}},

 {"data":{"name":"vg"},"mark":{"type":"line","color":"#0000ff","strokeWidth":1.6},
  "encoding":{"x":{"field":"g","type":"quantitative","scale":{"domain":[0,4],"range":[366.7,289.5],"nice":false,"zero":false},"axis":{"orient":"top","offset":2,"values":[0,0.2,0.4,0.6,0.8,1,1.2,1.4,1.6,1.8,2,2.2,2.4,2.6,2.8,3,3.2,3.4,3.6,3.8,4],"labelExpr":"abs(datum.value - round(datum.value)) < 0.001 ? format(datum.value,'d') : ''","tickSize":{"condition":{"test":"abs(datum.value - round(datum.value)) < 0.001","value":5},"value":3},"labelAngle":-90,"labelAlign":"left","labelBaseline":"middle","labelPadding":2,"domainColor":"#0000ff","tickColor":"#0000ff","labelColor":"#0000ff","title":"Vertical Accel (g's)","titleColor":"#0000ff","titleAngle":180,"titleBaseline":"top","titlePadding":3}},
   "y":{"field":"t","type":"quantitative","axis":null},"order":{"field":"t","type":"quantitative"}}},
 {"data":{"values":[{"g":1.32,"t":85.7,"label":"Vertical G"}]},"mark":{"type":"text","angle":270,"color":"#0000ff"},
  "encoding":{"x":{"field":"g","type":"quantitative","scale":{"domain":[0,4],"range":[366.7,289.5],"nice":false,"zero":false},"axis":null},"y":{"field":"t","type":"quantitative","axis":null},"text":{"field":"label"}}},
 {"data":{"values":[{"g":3.61,"g2":3.09,"t":203.6,"t2":254.9}]},"mark":{"type":"rect","fill":"#ffffff","stroke":"#ff0000","strokeWidth":1},
  "encoding":{"x":{"field":"g","type":"quantitative","scale":{"domain":[0,4],"range":[366.7,289.5],"nice":false,"zero":false},"axis":null},"x2":{"field":"g2"},"y":{"field":"t","type":"quantitative","axis":null},"y2":{"field":"t2"}}},
 {"data":{"values":[{"g":3.35,"t":229.3,"label":"Vertical Accel +3.9 G"}]},"mark":{"type":"text","angle":270,"color":"#ff0000","fontSize":9.5},
  "encoding":{"x":{"field":"g","type":"quantitative","scale":{"domain":[0,4],"range":[366.7,289.5],"nice":false,"zero":false},"axis":null},"y":{"field":"t","type":"quantitative","axis":null},"text":{"field":"label"}}},
 {"data":{"values":[{"g":3.47,"g2":3.84,"t":254.9,"t2":277.8}]},"mark":{"type":"rule","color":"#ff0000","strokeWidth":1.3},
  "encoding":{"x":{"field":"g","type":"quantitative","scale":{"domain":[0,4],"range":[366.7,289.5],"nice":false,"zero":false},"axis":null},"x2":{"field":"g2"},"y":{"field":"t","type":"quantitative","axis":null},"y2":{"field":"t2"}}},
 {"data":{"values":[{"g":3.86,"t":278.6}]},"mark":{"type":"point","shape":"triangle-up","filled":true,"color":"#ff0000","size":28,"angle":-10,"opacity":1},
  "encoding":{"x":{"field":"g","type":"quantitative","scale":{"domain":[0,4],"range":[366.7,289.5],"nice":false,"zero":false},"axis":null},"y":{"field":"t","type":"quantitative","axis":null}}},

 {"data":{"values":[{"t":279.5}]},"mark":{"type":"rule","color":"#ff5555","strokeDash":[8,3,2,3],"strokeWidth":1},
  "encoding":{"y":{"field":"t","type":"quantitative","axis":{"orient":"right","values":[0,50,100,150,200,250,300],"grid":true,"gridColor":"#444444","gridDash":[1,2],"gridWidth":1,"ticks":false,"domain":false,"labelAngle":-90,"labelAlign":"center","labelBaseline":"top","labelPadding":5,"labelFontSize":10.5,"labelFontStyle":"italic","labelColor":"#000000","labelExpr":"timeFormat(datetime(2011,8,12,16,4,20+datum.value),'%H:%M:%S')","title":"UTC (hr:min:sec)","titleAngle":-90,"titleAlign":"center","titleBaseline":"top","titlePadding":8,"titleFontSize":10.5,"titleColor":"#000000"}}}}
]
}
